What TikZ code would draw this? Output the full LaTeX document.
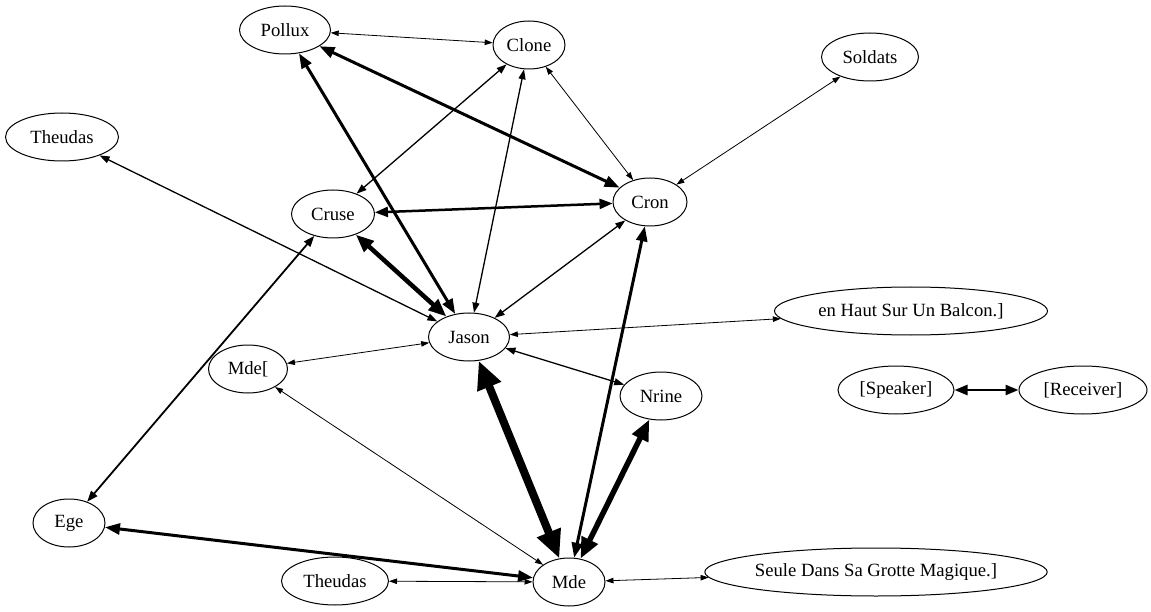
\documentclass[tikz,border=0pt]{standalone}
\usepackage{fontspec}
\setmainfont{Liberation Serif}
\usetikzlibrary{arrows.meta,shapes.geometric}
\begin{document}
\begin{tikzpicture}[x=1pt,y=-1pt,
  person/.style={ellipse, draw, line width=1pt, inner sep=0pt, minimum height=48pt,
    font=\fontsize{18.67}{22}\selectfont},
  link/.style n args={3}{line width=#1,
    arrows={Triangle[length=#2,width=#3]-Triangle[length=#2,width=#3]}},
  e1/.style={link={0.8pt}{8pt}{5.5pt}},
  e2/.style={link={1.3pt}{10pt}{7pt}},
  e3/.style={link={1.8pt}{11pt}{8pt}},
  e4/.style={link={2.5pt}{13pt}{10pt}},
  e5/.style={link={3pt}{15pt}{11pt}},
  e6/.style={link={4.5pt}{18pt}{14pt}},
  e7/.style={link={5.5pt}{21pt}{17pt}},
  e8/.style={link={8pt}{28pt}{24pt}},
]
\useasboundingbox (0,0) rectangle (1151,612);

% characters
\node[person, minimum width=91pt]  (pollux)   at (285,30)  {Pollux};
\node[person, minimum width=72pt]  (clone)    at (529,45)  {Clone};
\node[person, minimum width=97pt]  (soldats)  at (870,57)  {Soldats};
\node[person, minimum width=113pt] (theudasA) at (62,137)  {Theudas};
\node[person, minimum width=83pt]  (cruse)    at (333,214) {Cruse};
\node[person, minimum width=74pt]  (cron)     at (650,202) {Cron};
\node[person, minimum width=81pt]  (jason)    at (469,337) {Jason};
\node[person, minimum width=273pt] (balcon)   at (911,311) {en Haut Sur Un Balcon.]};
\node[person, minimum width=79pt]  (medeeB)   at (248,369) {Mde[};
\node[person, minimum width=82pt]  (nerine)   at (661,396) {Nrine};
\node[person, minimum width=116pt] (speaker)  at (896,390) {[Speaker]};
\node[person, minimum width=128pt] (receiver) at (1083,390) {[Receiver]};
\node[person, minimum width=72pt]  (ege)      at (69,523)  {Ege};
\node[person, minimum width=107pt] (theudasB) at (335,581) {Theudas};
\node[person, minimum width=72pt]  (medee)    at (569,582) {Mde};
\node[person, minimum width=340pt] (seule)    at (876,572) {Seule Dans Sa Grotte Magique.]};

% exchanges between characters
\draw[e1] (pollux) -- (clone);
\draw[e5] (pollux) -- (cron);
\draw[e5] (pollux) -- (jason);
\draw[e2] (clone) -- (cruse);
\draw[e2] (clone) -- (jason);
\draw[e1] (clone) -- (cron);
\draw[e1] (soldats) -- (cron);
\draw[e2] (theudasA) -- (jason);
\draw[e4] (cruse) -- (cron);
\draw[e6] (cruse) -- (jason);
\draw[e3] (cruse) -- (ege);
\draw[e2] (cron) -- (jason);
\draw[e5] (cron) -- (medee);
\draw[e1] (jason) -- (balcon);
\draw[e1] (jason) -- (medeeB);
\draw[e2] (jason) -- (nerine);
\draw[e8] (jason) -- (medee);
\draw[e7] (nerine) -- (medee);
\draw[e1] (medeeB) -- (medee);
\draw[e5] (ege) -- (medee);
\draw[e1] (theudasB) -- (medee);
\draw[e1] (medee) -- (seule);
\draw[e4] (speaker) -- (receiver);
\end{tikzpicture}
\end{document}
